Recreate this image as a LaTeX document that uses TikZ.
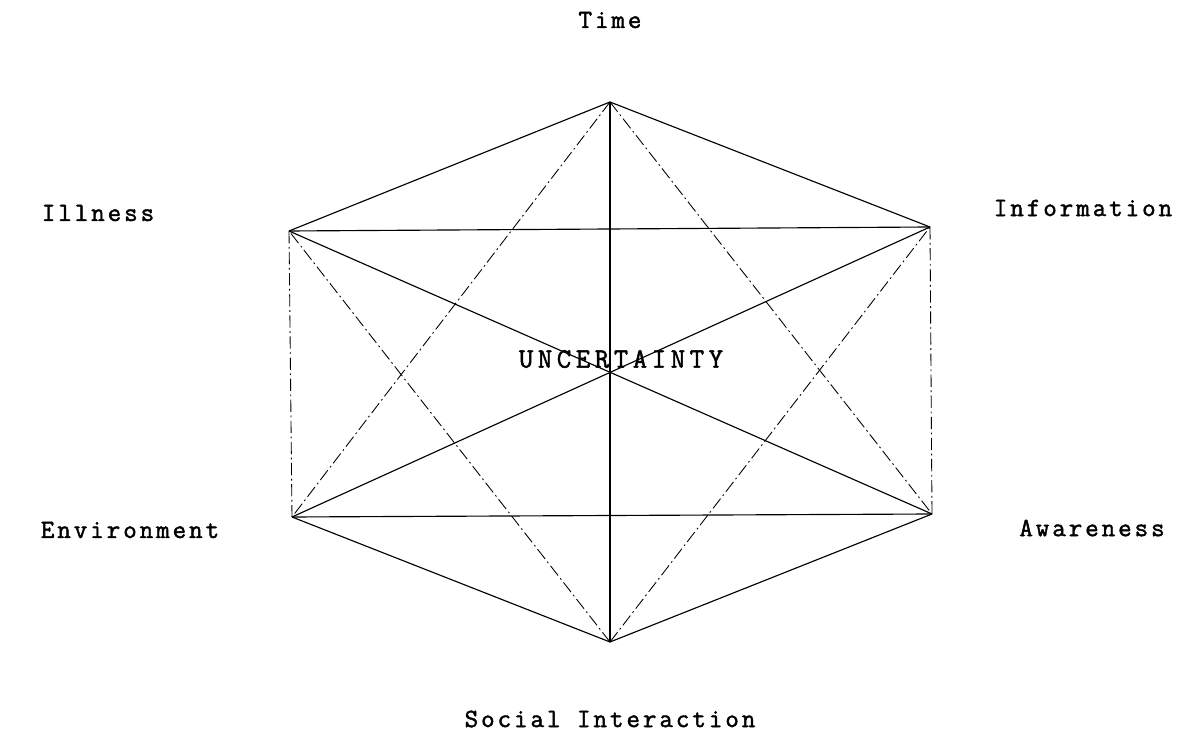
\documentclass[tikz,border=0pt]{standalone}
\usepackage{fontspec}
\newfontfamily\lblfont[LetterSpace=11,FakeBold=1.6]{Latin Modern Mono}
\newfontfamily\bigfont[LetterSpace=16,FakeBold=1.6]{Latin Modern Mono}
\usetikzlibrary{positioning}

\begin{document}
\begin{tikzpicture}
\tikzset{lbl/.style={font=\lblfont\fontsize{15}{17}\selectfont,inner sep=1pt},
  edge/.style={line width=0.65pt},
  dashdot/.style={line width=0.5pt,dash pattern=on 7pt off 2pt on 1pt off 2pt}}
\useasboundingbox (0,0) rectangle (23.66,14.66);
% corners of the hexagon
\coordinate (t) at (12.2,12.62);
\coordinate (il) at (5.78,10.04);
\coordinate (in) at (18.6,10.12);
\coordinate (en) at (5.84,4.32);
\coordinate (aw) at (18.64,4.38);
\coordinate (so) at (12.2,1.82);
% labels
\node[lbl] (time) at (12.2,14.26) {Time};
\node[lbl] (illness) at (1.96,10.4) {Illness};
\node[lbl] (info) at (21.66,10.5) {Information};
\node[lbl] (env) at (2.6,4.06) {Environment};
\node[lbl] (aware) at (21.84,4.1) {Awareness};
\node[lbl] (social) at (12.2,0.28) {Social Interaction};
\node[lbl,font=\bigfont\fontsize{16}{18}\selectfont] (unc) at (12.42,7.48) {UNCERTAINTY};
% solid lines
\draw[edge] (en) -- (so) -- (aw);
\draw[edge] (il) -- (t) -- (in);
\draw[edge] (il) -- (in);
\draw[edge] (en) -- (aw);
\draw[edge] (il) -- (aw);
\draw[edge] (in) -- (en);
\draw[edge] (t) -- (so);
% dash-dot lines
\draw[dashdot] (il) -- (en);
\draw[dashdot] (in) -- (aw);
\draw[dashdot] (t) -- (en);
\draw[dashdot] (t) -- (aw);
\draw[dashdot] (so) -- (il);
\draw[dashdot] (so) -- (in);
\end{tikzpicture}
\end{document}
